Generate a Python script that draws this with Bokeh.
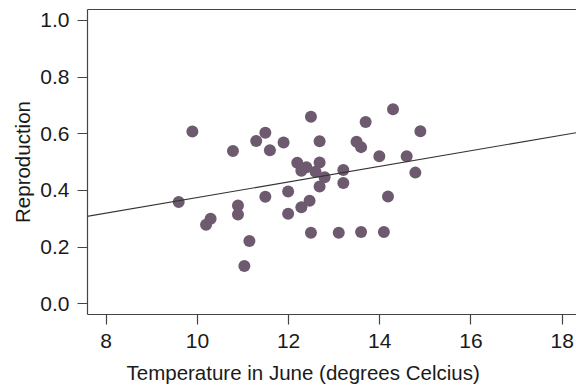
from bokeh.plotting import figure
from bokeh.models import Range1d, FixedTicker, LinearAxis, Slope, Title, NumeralTickFormatter
from bokeh.embed import file_html
from bokeh.resources import INLINE

temperature = [9.89, 9.59, 10.78, 10.29, 10.19, 10.89, 10.89, 11.14, 11.03, 11.29,
               11.49, 11.59, 11.49, 11.89, 11.99, 11.99, 12.19, 12.28, 12.39, 12.28,
               12.46, 12.49, 12.49, 12.59, 12.68, 12.68, 12.79, 12.68, 13.20, 13.20,
               13.10, 13.49, 13.59, 13.69, 13.59, 13.99, 14.09, 14.18, 14.29, 14.59,
               14.78, 14.89]
reproduction = [0.608, 0.359, 0.539, 0.300, 0.279, 0.347, 0.315, 0.222, 0.133, 0.575,
                0.604, 0.542, 0.378, 0.569, 0.396, 0.318, 0.498, 0.470, 0.482, 0.341,
                0.364, 0.660, 0.251, 0.466, 0.574, 0.499, 0.447, 0.414, 0.472, 0.426,
                0.251, 0.572, 0.553, 0.642, 0.253, 0.521, 0.253, 0.379, 0.687, 0.521,
                0.463, 0.609]
x_ticks = [8, 10, 12, 14, 16, 18]
y_ticks = [0.0, 0.2, 0.4, 0.6, 0.8, 1.0]
fit_slope = 0.02755
fit_intercept = 0.0996

FONT = "Liberation Sans"
TXT = "#1a1a1a"
AX = "#444444"

p = figure(width=576, height=391, output_backend="svg", toolbar_location=None,
           x_range=Range1d(7.59, 18.314), y_range=Range1d(-0.0378, 1.0388),
           min_border_left=87, min_border_right=0, min_border_top=9, min_border_bottom=77)
p.grid.visible = False
p.outline_line_color = None
p.background_fill_color = "white"
p.border_fill_color = "white"

for ax in (p.xaxis[0], p.yaxis[0]):
    ax.axis_line_color = AX
    ax.axis_line_width = 1.2
    ax.major_tick_line_color = AX
    ax.major_tick_line_width = 1.2
    ax.major_tick_out = 10
    ax.major_tick_in = 0
    ax.minor_tick_line_color = None
    ax.major_label_text_font = FONT
    ax.major_label_text_font_size = "21px"
    ax.major_label_text_color = TXT

p.xaxis[0].ticker = FixedTicker(ticks=x_ticks)
p.xaxis[0].major_label_standoff = 9
p.yaxis[0].ticker = FixedTicker(ticks=y_ticks)
p.yaxis[0].formatter = NumeralTickFormatter(format="0.0")
p.yaxis[0].major_label_standoff = 8
p.yaxis[0].axis_label = "Reproduction"
p.yaxis[0].axis_label_text_font = FONT
p.yaxis[0].axis_label_text_font_size = "20.5px"
p.yaxis[0].axis_label_text_font_style = "normal"
p.yaxis[0].axis_label_text_color = TXT
p.yaxis[0].axis_label_standoff = 3

top = LinearAxis(ticker=FixedTicker(ticks=[]), axis_line_color=AX, axis_line_width=1.2,
                 major_tick_out=0, major_tick_in=0, minor_tick_line_color=None,
                 major_label_text_font_size="0px")
p.add_layout(top, "above")

p.add_layout(Title(text="Temperature in June (degrees Celcius)", align="left", offset=39,
                   standoff=16, text_font=FONT, text_font_size="20.5px",
                   text_font_style="normal", text_color=TXT), "below")

p.add_layout(Slope(gradient=fit_slope, y_intercept=fit_intercept,
                   line_color="#333333", line_width=1.1))

p.scatter(temperature, reproduction, size=12, fill_color="#6e5a6f",
          line_color="#6e5a6f", line_width=0)

open("out.html", "w").write(file_html(p, INLINE))
